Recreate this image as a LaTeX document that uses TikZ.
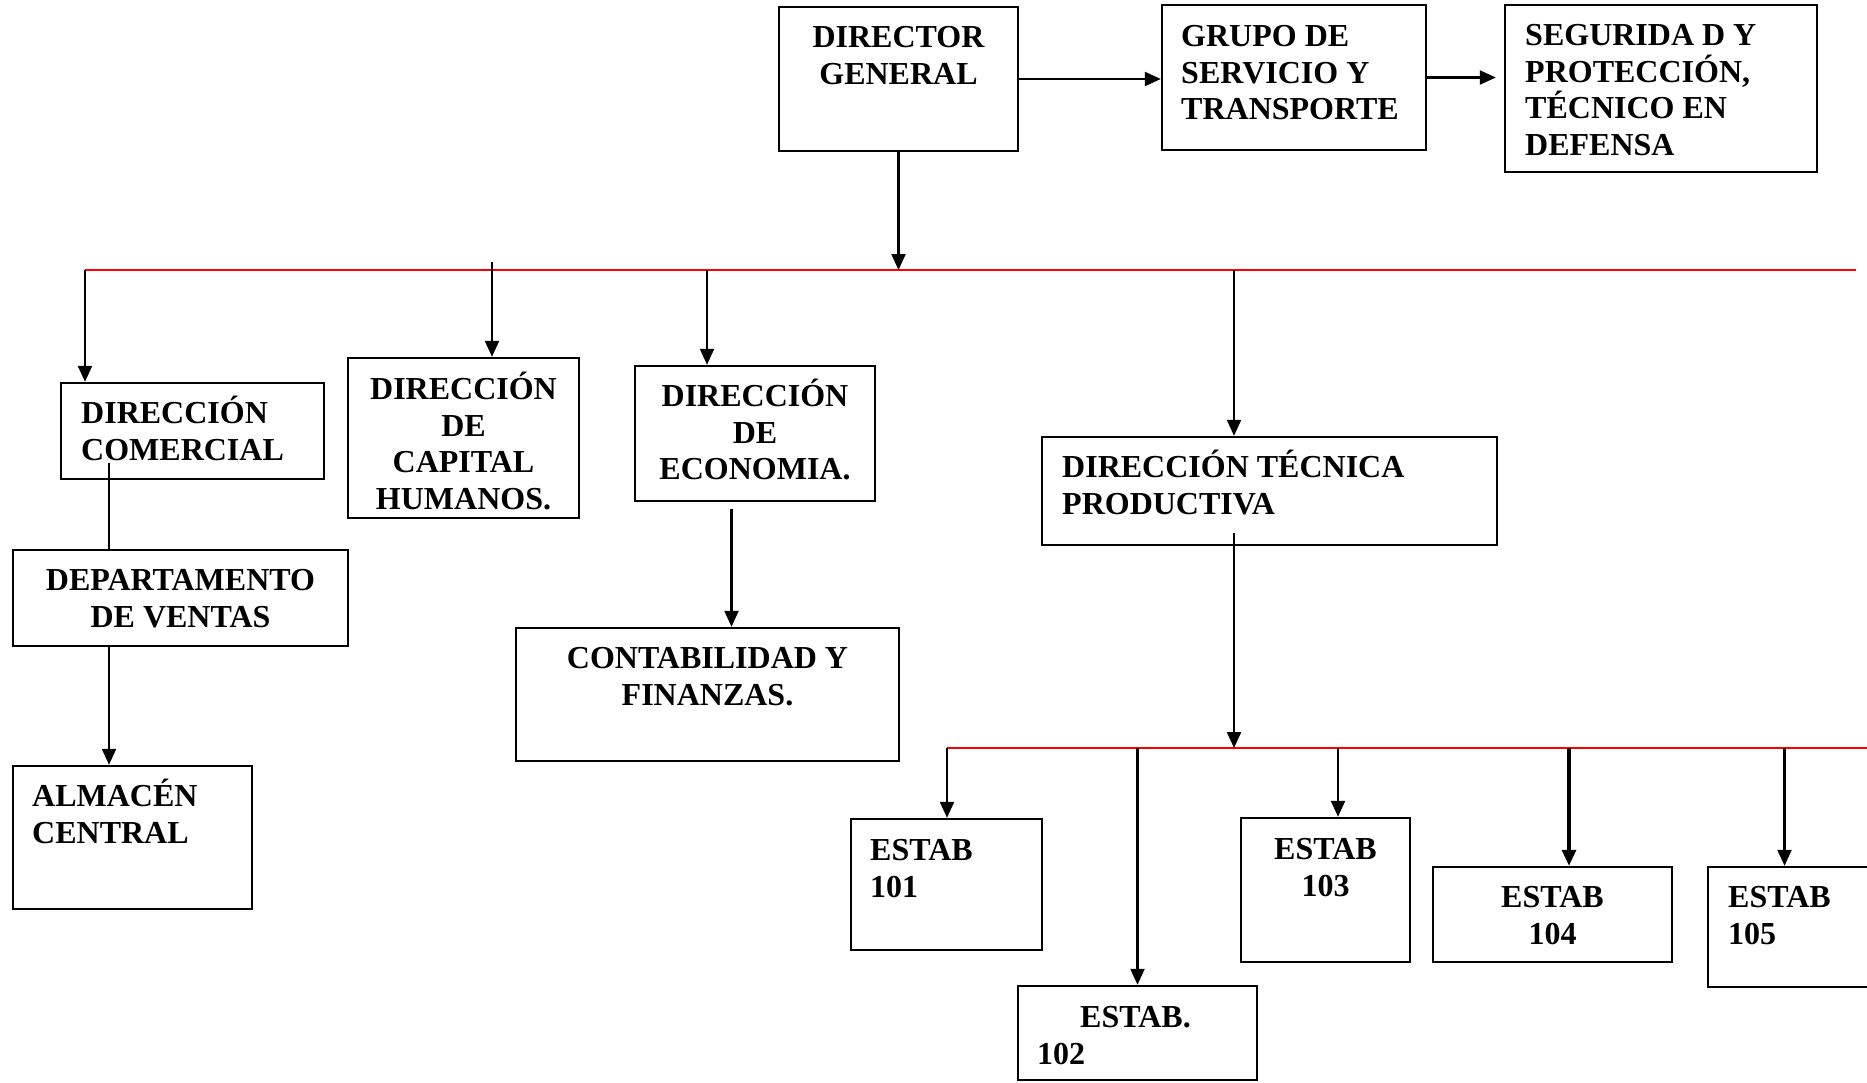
\documentclass[tikz,border=0pt]{standalone}
\usepackage{fontspec}
\setmainfont{Liberation Serif}
\usetikzlibrary{arrows.meta,fit}

% one drawing unit = one pixel of a 1867 x 1082 sheet, y pointing down
\tikzset{
  box/.style={draw=black, line width=1.2pt, inner sep=0pt},
  lbl/.style={inner sep=0pt, font=\bfseries\fontsize{16}{18.4}\selectfont},
  lblc/.style={lbl, align=center, anchor=north},
  lbll/.style={lbl, align=left, anchor=north west},
  arr/.style={line width=1.1pt, -{Triangle[length=8pt,width=7pt]}},
  link/.style={line width=1.1pt},
  busline/.style={draw=red, line width=0.9pt},
}
% fixed first-line height so every label starts at the same distance from its box top
\newcommand{\fst}{\rule{0pt}{16pt}}

\begin{document}
\begin{tikzpicture}[x=0.5pt, y=-0.5pt]
\clip (0,0) rectangle (1867,1082);
\fill[white] (0,0) rectangle (1867,1082);

% ---- boxes ----
\node[box, fit={(779,7) (1018,151)}]    (dg)   {};
\node[box, fit={(1162,5) (1426,150)}]   (gr)   {};
\node[box, fit={(1505,5) (1817,172)}]   (sg)   {};
\node[box, fit={(61,383) (324,479)}]    (dc)   {};
\node[box, fit={(348,358) (579,518)}]   (ch)   {};
\node[box, fit={(635,366) (875,501)}]   (ec)   {};
\node[box, fit={(1042,437) (1497,545)}] (dt)   {};
\node[box, fit={(13,550) (348,646)}]    (dv)   {};
\node[box, fit={(516,628) (899,761)}]   (cf)   {};
\node[box, fit={(13,766) (252,909)}]    (al)   {};
\node[box, fit={(851,819) (1042,950)}]  (e101) {};
\node[box, fit={(1018,986) (1257,1080)}] (e102) {};
\node[box, fit={(1241,818) (1410,962)}] (e103) {};
\node[box, fit={(1433,867) (1672,962)}] (e104) {};
\node[box, fit={(1708,867) (1878,987)}] (e105) {};

% ---- labels ----
\node[lblc] (tdg) at ([shift={(0,9)}]dg.north) {\fst DIRECTOR\\GENERAL};
\node[lbll] (tgr) at ([shift={(20,10)}]gr.north west) {\fst GRUPO DE\\SERVICIO Y\\TRANSPORTE};
\node[lbll] (tsg) at ([shift={(21,9)}]sg.north west) {\fst SEGURIDA D Y\\PROTECCIÓN,\\TÉCNICO EN\\DEFENSA};
\node[lbll] (tdc) at ([shift={(21,9)}]dc.north west) {\fst DIRECCIÓN\\COMERCIAL};
\node[lblc] (tch) at ([shift={(0,10)}]ch.north) {\fst DIRECCIÓN\\DE\\CAPITAL\\HUMANOS.};
\node[lblc] (tec) at ([shift={(0,9)}]ec.north) {\fst DIRECCIÓN\\DE\\ECONOMIA.};
\node[lbll] (tdt) at ([shift={(21,9)}]dt.north west) {\fst DIRECCIÓN TÉCNICA\\PRODUCTIVA};
\node[lblc] (tdv) at ([shift={(0,9)}]dv.north) {\fst DEPARTAMENTO\\DE VENTAS};
\node[lblc] (tcf) at ([shift={(0,9)}]cf.north) {\fst CONTABILIDAD Y\\FINANZAS.};
\node[lbll] (tal) at ([shift={(20,9)}]al.north west) {\fst ALMACÉN\\CENTRAL};
\node[lbll] (t101) at ([shift={(20,10)}]e101.north west) {\fst ESTAB\\101};
\node[lbll] (t102) at ([shift={(20,10)}]e102.north west) {\fst\hspace*{21.5pt}ESTAB.\\102};
\node[lblc] (t103) at ([shift={(0,10)}]e103.north) {\fst ESTAB\\103};
\node[lblc] (t104) at ([shift={(0,9)}]e104.north) {\fst ESTAB\\104};
\node[lbll] (t105) at ([shift={(21,9)}]e105.north west) {\fst ESTAB\\105};

% ---- distribution buses ----
\coordinate (b1l) at (85,270);
\coordinate (b1r) at (1856,270);
\coordinate (b2l) at (947,748);
\coordinate (b2r) at (1867,748);
\draw[busline] (b1l) -- (b1r);
\draw[busline] (b2l) -- (b2r);

% ---- top row ----
\draw[arr] (dg.east) -- (dg.east -| gr.west);
\draw[arr, shorten >=4pt] (gr.east) -- (gr.east -| sg.west);
\draw[arr] (dg.south) -- (dg.south |- b1l);

% ---- first bus to the directions ----
\draw[arr] (b1l) -- (b1l |- dc.north);
\coordinate (capt) at (492,262);
\draw[arr] (capt) -- (capt |- ch.north);
\coordinate (ect) at ([shift={(-48,0)}]ec.north);
\draw[arr] (ect |- b1l) -- (ect);
\coordinate (dtt) at ([shift={(-35.5,0)}]dt.north);
\draw[arr] (dtt |- b1l) -- (dtt);

% ---- commercial branch ----
\coordinate (dcv) at ([shift={(-71.5,0)}]dv.north);
\path (dc.south) ++(0,-17) coordinate (dcs);
\draw[link] (dcv |- dcs) -- (dcv);
\draw[arr] (dcv |- dv.south) -- (dcv |- al.north);

% ---- economy branch ----
\coordinate (cft) at ([shift={(24,0)}]cf.north);
\path (ec.south) ++(0,7) coordinate (ecs);
\draw[arr] (cft |- ecs) -- (cft);

% ---- technical branch ----
\path (dtt |- dt.south) ++(0,-13) coordinate (dts);
\draw[arr] (dts) -- (dts |- b2l);

\draw[arr] (b2l) -- (b2l |- e101.north);
\draw[arr] (e102.north |- b2l) -- (e102.north);
\coordinate (e103t) at ([shift={(12.5,0)}]e103.north);
\draw[arr] (e103t |- b2l) -- (e103t);
\coordinate (e104t) at ([shift={(16.5,0)}]e104.north);
\draw[arr, line width=1.6pt] (e104t |- b2l) -- (e104t);
\coordinate (e105t) at ([shift={(-8.5,0)}]e105.north);
\draw[arr] (e105t |- b2l) -- (e105t);
\end{tikzpicture}
\end{document}
